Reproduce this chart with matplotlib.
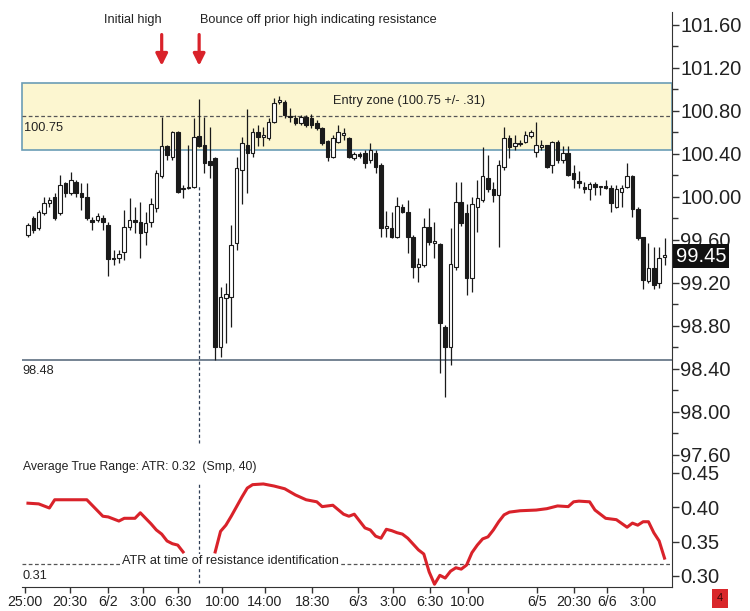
import matplotlib
matplotlib.use('Agg')
from matplotlib import pyplot as plt
from matplotlib.ticker import MultipleLocator, FormatStrFormatter, FixedLocator
import matplotlib.transforms as mtransforms
import numpy as np

# 30-min bars
opens = [99.65, 99.80, 99.71, 99.85, 99.94, 100.00, 99.85, 100.13, 100.04, 100.14,
         100.04, 100.00, 99.79, 99.79, 99.80, 99.74, 99.43, 99.43, 99.49, 99.72,
         99.79, 99.77, 99.67, 99.77, 99.90, 100.19, 100.47, 100.37, 100.60, 100.07,
         100.08, 100.09, 100.57, 100.48, 100.33, 100.36, 98.60, 99.06, 99.07, 99.57,
         100.25, 100.48, 100.41, 100.60, 100.56, 100.55, 100.70, 100.88, 100.88, 100.75,
         100.73, 100.69, 100.74, 100.73, 100.69, 100.64, 100.52, 100.37, 100.51, 100.58,
         100.55, 100.36, 100.40, 100.41, 100.34, 100.41, 100.30, 99.71, 99.71, 99.63,
         99.91, 99.86, 99.63, 99.35, 99.37, 99.72, 99.57, 99.56, 98.79, 98.60,
         99.35, 99.95, 99.85, 99.25, 99.91, 99.97, 100.18, 100.07, 100.02, 100.28,
         100.55, 100.47, 100.50, 100.51, 100.57, 100.42, 100.46, 100.48, 100.30, 100.51,
         100.34, 100.41, 100.22, 100.15, 100.09, 100.07, 100.12, 100.09, 100.10, 100.08,
         99.91, 100.05, 100.09, 100.19, 99.89, 99.63, 99.22, 99.34, 99.20, 99.44]
highs = [99.76, 99.82, 99.88, 100.00, 100.00, 100.04, 100.20, 100.14, 100.23, 100.16,
         100.13, 100.13, 99.81, 99.85, 99.83, 99.77, 99.51, 99.51, 99.88, 99.99,
         99.91, 99.95, 99.86, 99.99, 100.25, 100.74, 100.48, 100.61, 100.61, 100.11,
         100.48, 100.73, 100.91, 100.74, 100.65, 100.37, 99.16, 99.20, 99.74, 100.37,
         100.56, 100.82, 100.64, 100.67, 100.65, 100.73, 100.92, 100.94, 100.90, 100.83,
         100.76, 100.76, 100.76, 100.77, 100.72, 100.65, 100.53, 100.58, 100.67, 100.64,
         100.56, 100.42, 100.42, 100.44, 100.50, 100.44, 100.32, 99.87, 99.86, 100.00,
         99.93, 99.97, 99.65, 99.43, 99.80, 99.90, 99.77, 99.57, 98.81, 99.71,
         100.14, 100.14, 99.93, 100.00, 100.16, 100.46, 100.39, 100.14, 100.34, 100.65,
         100.58, 100.58, 100.53, 100.61, 100.62, 100.70, 100.53, 100.48, 100.52, 100.53,
         100.47, 100.47, 100.30, 100.24, 100.14, 100.14, 100.14, 100.10, 100.16, 100.11,
         100.11, 100.11, 100.32, 100.20, 99.91, 99.63, 99.57, 99.53, 99.53, 99.62]
lows = [99.63, 99.66, 99.69, 99.83, 99.91, 99.79, 99.83, 100.00, 100.02, 100.00,
        99.88, 99.79, 99.69, 99.77, 99.69, 99.26, 99.37, 99.39, 99.41, 99.69,
        99.66, 99.43, 99.55, 99.72, 99.86, 100.18, 100.34, 100.34, 100.04, 99.99,
        100.07, 100.08, 100.46, 100.22, 100.18, 98.48, 98.51, 98.64, 98.79, 99.51,
        99.93, 100.04, 100.37, 100.47, 100.47, 100.53, 100.69, 100.86, 100.73, 100.70,
        100.67, 100.67, 100.65, 100.64, 100.62, 100.48, 100.33, 100.36, 100.50, 100.53,
        100.36, 100.34, 100.36, 100.27, 100.32, 100.22, 99.63, 99.63, 99.62, 99.62,
        99.85, 99.48, 99.25, 99.21, 99.35, 99.55, 99.43, 98.36, 98.14, 98.44,
        99.32, 99.73, 99.09, 99.12, 99.67, 99.95, 100.05, 99.95, 99.53, 100.25,
        100.36, 100.44, 100.47, 100.50, 100.55, 100.37, 100.44, 100.27, 100.22, 100.32,
        100.32, 100.19, 100.08, 100.08, 100.04, 99.97, 100.02, 100.02, 100.07, 99.86,
        99.90, 99.91, 100.08, 99.81, 99.60, 99.14, 99.20, 99.14, 99.15, 99.37]
closes = [99.74, 99.69, 99.86, 99.94, 99.97, 99.80, 100.11, 100.04, 100.16, 100.04,
          100.00, 99.80, 99.77, 99.82, 99.77, 99.42, 99.42, 99.47, 99.72, 99.79,
          99.77, 99.66, 99.76, 99.93, 100.22, 100.47, 100.39, 100.60, 100.05, 100.08,
          100.09, 100.56, 100.47, 100.32, 100.30, 98.60, 99.07, 99.10, 99.55, 100.27,
          100.50, 100.41, 100.60, 100.56, 100.58, 100.70, 100.87, 100.90, 100.76, 100.74,
          100.69, 100.74, 100.67, 100.67, 100.64, 100.50, 100.37, 100.55, 100.60, 100.59,
          100.37, 100.40, 100.38, 100.32, 100.44, 100.28, 99.71, 99.73, 99.63, 99.92,
          99.86, 99.63, 99.35, 99.38, 99.72, 99.58, 99.59, 98.83, 98.60, 99.38,
          99.95, 99.76, 99.25, 99.93, 99.99, 100.19, 100.07, 100.02, 100.30, 100.55,
          100.46, 100.50, 100.49, 100.58, 100.60, 100.48, 100.48, 100.28, 100.51, 100.34,
          100.41, 100.20, 100.17, 100.13, 100.07, 100.12, 100.09, 100.09, 100.08, 99.94,
          100.07, 100.08, 100.19, 99.89, 99.62, 99.23, 99.34, 99.18, 99.43, 99.46]

nan = np.nan
atr_idx = [0, 2, 4, 5, 11, 12, 14, 15, 17, 18,
           20, 21, 23, 24, 25, 26, 27, 28, 29, 32,
           35, 36, 37, 38, 39, 40, 41, 42, 44, 46,
           48, 50, 52, 54, 55, 57, 59, 60, 61, 63,
           64, 65, 66, 67, 68, 69, 70, 71, 73, 74,
           75, 76, 77, 78, 79, 80, 81, 82, 83, 84,
           85, 86, 87, 88, 89, 90, 92, 95, 97, 99,
           101, 102, 103, 105, 106, 107, 108, 110, 112, 113,
           114, 115, 116, 117, 118, 119]
atr_val = [0.406, 0.405, 0.399, 0.411, 0.411, 0.403, 0.387, 0.386, 0.380, 0.384,
           0.384, 0.392, 0.376, 0.367, 0.361, 0.351, 0.347, 0.345, 0.335, nan,
           0.335, 0.365, 0.374, 0.387, 0.401, 0.415, 0.428, 0.433, 0.434, 0.431,
           0.427, 0.418, 0.411, 0.408, 0.401, 0.403, 0.390, 0.387, 0.390, 0.370,
           0.367, 0.358, 0.355, 0.368, 0.366, 0.363, 0.361, 0.355, 0.338, 0.332,
           0.306, 0.288, 0.301, 0.297, 0.307, 0.312, 0.310, 0.316, 0.334, 0.345,
           0.354, 0.357, 0.367, 0.379, 0.389, 0.393, 0.395, 0.396, 0.398, 0.402,
           0.401, 0.408, 0.409, 0.408, 0.396, 0.390, 0.384, 0.382, 0.371, 0.377,
           0.374, 0.379, 0.379, 0.363, 0.351, 0.326]

tick_pos = [-0.56, 7.85, 14.95, 21.5, 28.0, 36.3, 44.3, 53.1, 61.7,
            68.2, 75.1, 82.2, 95.1, 102.1, 108.2, 114.95]
tick_labels = ['25:00', '20:30', '6/2', '3:00', '6:30', '10:00', '14:00', '18:30', '6/3',
               '3:00', '6:30', '10:00', '6/5', '20:30', '6/6', '3:00']

entry = 100.75
zone = 0.31
support = 98.48
atr_ref = 0.317
last_price = 99.45
initial_bar = 25
signal_bar = 32

plt.rcParams['font.family'] = ['Liberation Sans', 'DejaVu Sans']

fig = plt.figure(figsize=(7.5, 6.11), dpi=100)
ax = fig.add_axes([0.0293, 0.2439, 0.8667, 0.7365])
ax2 = fig.add_axes([0.0293, 0.0393, 0.8667, 0.2046], sharex=ax)

dark = '#1a1a1a'
red = '#d9222a'
note_size = 9.2
axis_size = 14.5

# candles
o = np.array(opens)
c = np.array(closes)
idx = np.arange(len(o))
up = c >= o
bottom = np.minimum(o, c)
height = np.maximum(np.abs(c - o), 0.015)
ax.vlines(idx, lows, highs, color=dark, lw=0.9, zorder=3)
ax.bar(idx[up], height[up], bottom=bottom[up], width=0.66, facecolor='white',
       edgecolor=dark, lw=0.8, zorder=4)
ax.bar(idx[~up], height[~up], bottom=bottom[~up], width=0.66, facecolor=dark,
       edgecolor=dark, lw=0.8, zorder=4)

# entry zone
span = ax.axhspan(entry - zone, entry + zone, facecolor='#fcf6d0', edgecolor='#6b9db5',
                  lw=1.2, zorder=1)
span.set_clip_on(False)
ax.axhline(entry, color='#555555', ls=(0, (3, 2)), lw=0.9, zorder=2)
ax.text(-0.8, 100.64, '100.75', fontsize=note_size, color='#222', va='center', ha='left')
ax.text(71.2, 100.893, 'Entry zone (100.75 +/- .31)', fontsize=note_size, color='#222',
        va='center', ha='center')

# support
ax.axhline(support, color='#5e6e80', lw=1.2, zorder=2)
ax.text(-1.0, 98.38, '98.48', fontsize=note_size, color='#222', va='center', ha='left')

# time of identification
ax.plot([signal_bar, signal_bar], [97.71, 100.1], color='#2f3e55', ls=(0, (2.5, 2)),
        lw=0.9, zorder=2)

# arrows and notes
for b in (initial_bar, signal_bar):
    ax.annotate('', xy=(b, 101.22), xytext=(b, 101.51),
                arrowprops=dict(arrowstyle='-|>,head_width=0.35,head_length=0.7',
                                color=red, lw=2.3, mutation_scale=10,
                                shrinkA=0, shrinkB=0))
ax.text(19.6, 101.647, 'Initial high', fontsize=note_size, color='#222',
        ha='center', va='center')
ax.text(32.15, 101.647, 'Bounce off prior high indicating resistance', fontsize=note_size,
        color='#222', ha='left', va='center')

ax.set_xlim(-1.12, 120.4)
ax.set_ylim(97.535, 101.72)
ax.yaxis.tick_right()
ax.yaxis.set_major_locator(MultipleLocator(0.4))
ax.yaxis.set_minor_locator(MultipleLocator(0.2))
ax.yaxis.set_major_formatter(FormatStrFormatter('%.2f'))
ax.tick_params(axis='y', which='major', length=5, width=1, pad=1, labelsize=axis_size,
               colors='#333', labelcolor='#222')
ax.tick_params(axis='y', which='minor', length=4, width=1, colors='#333')
ax.tick_params(axis='x', bottom=False, labelbottom=False)
for s in ('left', 'top', 'bottom'):
    ax.spines[s].set_visible(False)
ax.spines['right'].set_color('#333')

# last price marker
trans = mtransforms.blended_transform_factory(ax.transAxes, ax.transData)
ax.text(1.006, last_price, '%.2f' % last_price, transform=trans, fontsize=axis_size,
        color='white', ha='left', va='center', zorder=10, clip_on=False,
        bbox=dict(boxstyle='square,pad=0.12', fc='#111111', ec='none'))

# ATR panel
ax2.plot(atr_idx, atr_val, color=red, lw=2.2, solid_joinstyle='round', zorder=3)
ax2.axhline(atr_ref, color='#555555', ls=(0, (3, 2)), lw=0.9, zorder=2)
ax2.text(37.8, 0.322, 'ATR at time of resistance identification', fontsize=note_size,
         color='#222', ha='center', va='center', zorder=4,
         bbox=dict(boxstyle='square,pad=0.1', fc='white', ec='none'))
ax2.text(-1.0, 0.300, '0.31', fontsize=note_size, color='#222', ha='left', va='center')
ax2.text(-1.0, 0.459, 'Average True Range: ATR: 0.32  (Smp, 40)', fontsize=8.8,
         color='#222', ha='left', va='center')
ax2.plot([signal_bar, signal_bar], [0.29, 0.434], color='#2f3e55', ls=(0, (2.5, 2)),
         lw=0.9, zorder=2)

ax2.set_ylim(0.284, 0.466)
ax2.yaxis.tick_right()
ax2.yaxis.set_major_locator(FixedLocator([0.30, 0.35, 0.40, 0.45]))
ax2.yaxis.set_major_formatter(FormatStrFormatter('%.2f'))
ax2.tick_params(axis='y', length=5, width=1, pad=1, labelsize=axis_size, colors='#333',
                labelcolor='#222')
ax2.set_xticks(tick_pos)
ax2.set_xticklabels(tick_labels)
ax2.tick_params(axis='x', length=4, width=1, pad=2, labelsize=10.2, colors='#333',
                labelcolor='#222')
for s in ('left', 'top'):
    ax2.spines[s].set_visible(False)
ax2.spines['right'].set_color('#333')
ax2.spines['bottom'].set_color('#333')

fig.text(0.96, 0.021, '4', fontsize=8, color='#3a0808', ha='center', va='center',
         bbox=dict(boxstyle='square,pad=0.4', fc='#d9262a', ec='none'))

fig.savefig('out.png', dpi=100)
